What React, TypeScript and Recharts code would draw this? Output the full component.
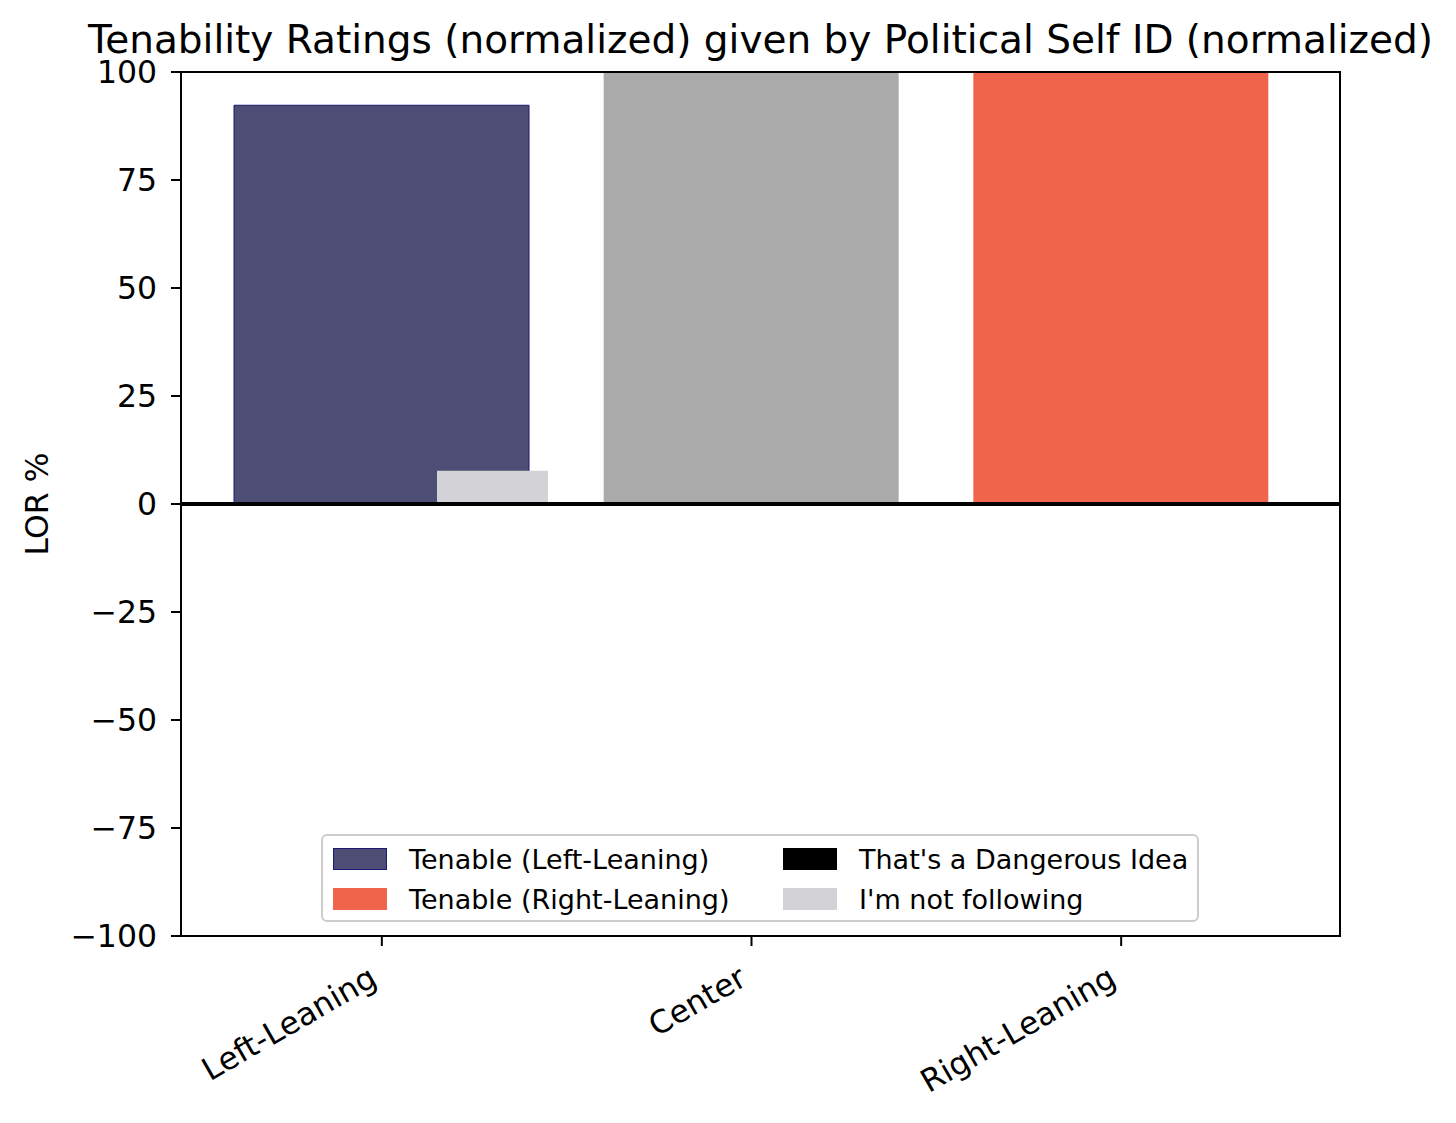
import React from 'react';
import { BarChart, Bar, XAxis, YAxis, Cell, ReferenceLine } from 'recharts';

const categories = ['Left-Leaning', 'Center', 'Right-Leaning'];
const tenable = [92.3, 100, 100];
const dangerous = [0, 0, 0];
const notFollowing = [7.7, 0, 0];
const tenableColors = ['#4d4d75', '#aaaaaa', '#f0644b'];
const yTicks = [-100, -75, -50, -25, 0, 25, 50, 75, 100];

const legendItems = [
  { label: 'Tenable (Left-Leaning)', color: '#4d4d75', edge: '#1a1a6e' },
  { label: "That's a Dangerous Idea", color: '#000000', edge: '#000000' },
  { label: 'Tenable (Right-Leaning)', color: '#f0644b', edge: '#f0644b' },
  { label: "I'm not following", color: '#d3d2d7', edge: '#d3d2d7' },
];

const data = categories.map((cat, i) => ({
  cat,
  tenable: tenable[i],
  dangerous: dangerous[i],
  notFollowing: notFollowing[i],
}));

const FONT = '"DejaVu Sans", sans-serif';
const fmt = (v: number) => (v < 0 ? '\u2212' + Math.abs(v) : String(v));

const XTick = ({ x, y, payload }: any) => (
  <text
    transform={`translate(${x - 3},${y + 38}) rotate(-30)`}
    textAnchor="end"
    fontFamily={FONT}
    fontSize={31.5}
    fill="#000"
  >
    {payload.value}
  </text>
);

const LegendBox = () => (
  <div
    style={{
      position: 'absolute',
      left: 321,
      top: 834,
      width: 878,
      height: 88,
      boxSizing: 'border-box',
      border: '2px solid #cccccc',
      borderRadius: 6,
      background: 'rgba(255,255,255,0.8)',
      display: 'grid',
      gridTemplateColumns: '450px 420px',
      gridTemplateRows: '40px 40px',
      padding: '3px 0 0 10px',
      fontFamily: FONT,
      fontSize: 27,
      color: '#000',
    }}
  >
    {legendItems.map((it) => (
      <div key={it.label} style={{ display: 'flex', alignItems: 'center' }}>
        <span
          style={{
            display: 'inline-block',
            width: 54,
            height: 22,
            boxSizing: 'border-box',
            background: it.color,
            border: `1px solid ${it.edge}`,
            marginRight: 22,
          }}
        />
        <span>{it.label}</span>
      </div>
    ))}
  </div>
);

export default function App() {
  return (
    <div style={{ position: 'absolute', left: 0, top: 0, width: 1456, height: 1123, background: '#fff', overflow: 'hidden' }}>
      <div
        style={{
          position: 'absolute',
          left: 60,
          width: 1401,
          top: 24,
          textAlign: 'center',
          fontFamily: FONT,
          fontSize: 39,
          lineHeight: '32px',
          color: '#000',
          whiteSpace: 'nowrap',
        }}
      >
        Tenability Ratings (normalized) given by Political Self ID (normalized)
      </div>
      <BarChart
        width={1456}
        height={1123}
        data={data}
        margin={{ top: 72, right: 116, bottom: 0, left: 20 }}
        barGap={-92}
      >
        <XAxis
          dataKey="cat"
          height={187}
          padding={{ left: 16, right: 34 }}
          tickSize={10}
          tickMargin={0}
          axisLine={{ stroke: '#000', strokeWidth: 2 }}
          tickLine={{ stroke: '#000', strokeWidth: 2 }}
          tick={<XTick />}
          interval={0}
        />
        <YAxis
          width={161}
          domain={[-100, 100]}
          ticks={yTicks}
          allowDataOverflow
          tickFormatter={fmt}
          tickSize={10}
          tickMargin={14}
          axisLine={{ stroke: '#000', strokeWidth: 2 }}
          tickLine={{ stroke: '#000', strokeWidth: 2 }}
          tick={{ fill: '#000', fontFamily: FONT, fontSize: 31.5 }}
          label={({ viewBox }: any) => (
            <text
              transform={`translate(${viewBox.x + 17},${viewBox.y + viewBox.height / 2}) rotate(-90)`}
              textAnchor="middle"
              dominantBaseline="central"
              fontFamily={FONT}
              fontSize={31.5}
              fill="#000"
            >
              LOR %
            </text>
          )}
        />
        <Bar dataKey="dangerous" barSize={111} fill="#000000" isAnimationActive={false} />
        <Bar dataKey="tenable" barSize={295} isAnimationActive={false}>
          {data.map((d, i) => (
            <Cell
              key={d.cat}
              fill={tenableColors[i]}
              stroke={i === 0 ? '#1a1a6e' : tenableColors[i]}
              strokeWidth={i === 0 ? 1 : 0}
            />
          ))}
        </Bar>
        <Bar dataKey="notFollowing" barSize={111} fill="#d3d2d7" isAnimationActive={false} />
        <ReferenceLine y={0} stroke="#000" strokeWidth={4} />
      </BarChart>
      <div
        style={{
          position: 'absolute',
          left: 180,
          top: 71,
          width: 1161,
          height: 866,
          boxSizing: 'border-box',
          border: '2px solid #000',
          pointerEvents: 'none',
        }}
      />
      <LegendBox />
    </div>
  );
}
